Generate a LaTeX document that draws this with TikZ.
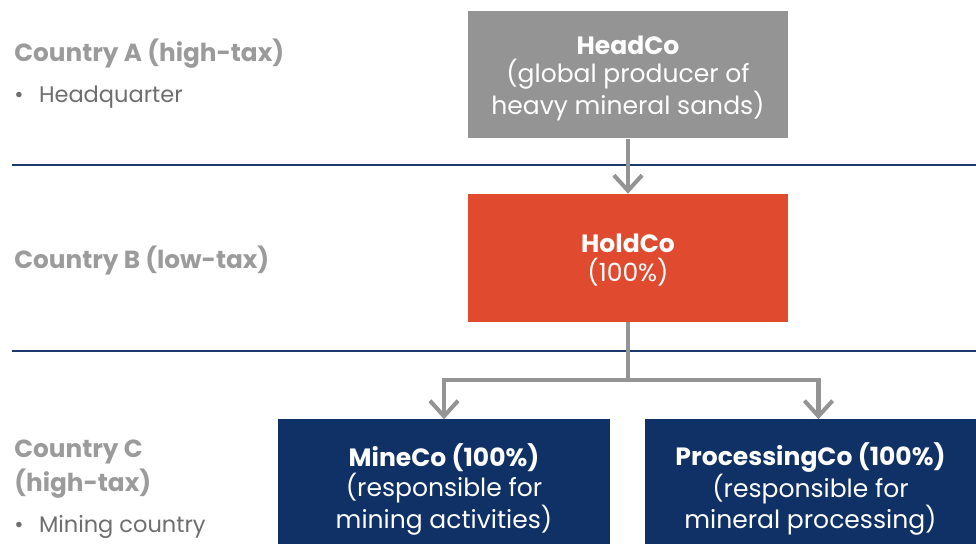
\documentclass[tikz,border=0pt]{standalone}
\usepackage{fontspec}
\setmainfont{Poppins}
\usetikzlibrary{positioning, arrows.meta}
\definecolor{hcgray}{HTML}{949494}
\definecolor{hcred}{HTML}{E04A2F}
\definecolor{hcnavy}{HTML}{0F3166}
\definecolor{sepnavy}{HTML}{1B3A6B}
\definecolor{lblgray}{HTML}{9B9B9B}
\definecolor{bulgray}{HTML}{6E6E6E}
\tikzset{
	x=0.025cm, y=-0.025cm, % one unit is one pixel of the layout
	box/.style={draw=none, text=white, align=center, inner sep=0pt,
		text depth=0pt, font=\fontsize{17.8}{20.3}\selectfont}, % every company box
	countrylbl/.style={anchor=base west, inner sep=0pt, text=lblgray,
		font=\fontsize{17.6}{22}\selectfont\bfseries}, % country names
	bulletlbl/.style={anchor=base west, inner sep=0pt, text=bulgray,
		font=\fontsize{16}{19}\selectfont}, % bullet lines
	arr/.style={draw=hcgray, line width=2.9pt,
		-{Straight Barb[length=11pt, width=20pt, line width=2.9pt]}}, % ownership arrows
	sepline/.style={draw=sepnavy, line width=1.4pt}, % borders between countries
}

\begin{document}
\begin{tikzpicture}
	\useasboundingbox (0,0) rectangle (976,544);
	% borders between the countries
	\draw[sepline] (12,165) -- (976,165);
	\draw[sepline] (12,351) -- (976,351);

	% left column
	\node[countrylbl] (ctrya) at (14,62) {Country A (high-tax)};
	\node[bulletlbl] (hqbul) at (14,103) {\textbullet\hspace{11pt}Headquarter};
	\node[countrylbl] (ctryb) at (14,269) {Country B (low-tax)};
	\node[countrylbl] (ctryc) at (14,458) {Country C};
	\node[countrylbl] (ctrycx) at (14,492) {(high-tax)};
	\node[bulletlbl] (minbul) at (14,533) {\textbullet\hspace{11pt}Mining country};

	% companies
	\node[box, fill=hcgray, minimum width=320*0.025cm, minimum height=127*0.025cm] (headco) at (628,75)
		{\textbf{HeadCo}\\(global producer of\\heavy mineral sands)};
	\node[box, fill=hcred, minimum width=320*0.025cm, minimum height=128*0.025cm] (holdco) at (628,258)
		{\textbf{HoldCo}\\(100\%)};
	\node[box, fill=hcnavy, minimum width=332*0.025cm, minimum height=133*0.025cm] (mineco) at (444,486)
		{\textbf{MineCo (100\%)}\\(responsible for\\mining activities)};
	\node[box, fill=hcnavy, minimum width=331*0.025cm, minimum height=133*0.025cm] (procco) at (810.5,486)
		{\textbf{ProcessingCo (100\%)}\\(responsible for\\mineral processing)};

	% ownership
	\coordinate (split) at (628,380);
	\draw[arr] (headco.south) -- (holdco.north);
	\draw[arr] (holdco.south) -- (split) -| (mineco.north);
	\draw[arr] (split) -| ([xshift=8*0.025cm]procco.north);
\end{tikzpicture}
\end{document}
